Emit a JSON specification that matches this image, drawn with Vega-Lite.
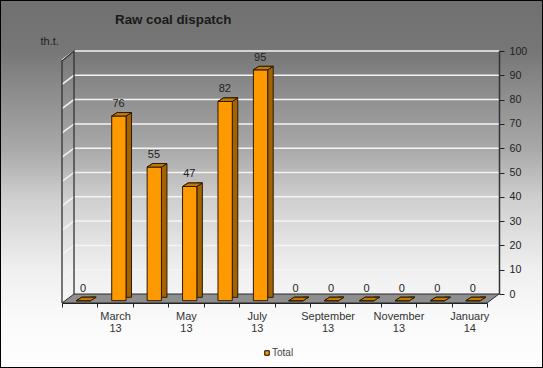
{
"$schema":"https://vega.github.io/schema/vega-lite/v6.json",
"width":543,"height":368,"autosize":"none","padding":0,
"background":"#ffffff",
"config":{"view":{"stroke":null},"font":"Liberation Sans"},
"title":{"text":"Raw coal dispatch","anchor":"start","frame":"group","dx":115,"offset":-27,"fontSize":13.33,"fontWeight":"bold","color":"#1a1a1a","font":"Liberation Sans"},
"datasets":{
"bars":[
{"month":"February 13","value":0,"series":"Total"},
{"month":"March 13","value":76,"series":"Total"},
{"month":"April 13","value":55,"series":"Total"},
{"month":"May 13","value":47,"series":"Total"},
{"month":"June 13","value":82,"series":"Total"},
{"month":"July 13","value":95,"series":"Total"},
{"month":"August 13","value":0,"series":"Total"},
{"month":"September 13","value":0,"series":"Total"},
{"month":"October 13","value":0,"series":"Total"},
{"month":"November 13","value":0,"series":"Total"},
{"month":"December 13","value":0,"series":"Total"},
{"month":"January 14","value":0,"series":"Total"}],
"grid":[
{"month":"February 13","value":10},{"month":"February 13","value":20},{"month":"February 13","value":30},{"month":"February 13","value":40},{"month":"February 13","value":50},{"month":"February 13","value":60},{"month":"February 13","value":70},{"month":"February 13","value":80},{"month":"February 13","value":90},{"month":"February 13","value":100}],
"frame":[{"month":"February 13","value":0}]
},
"data":{"name":"bars"},
"encoding":{
"x":{"field":"month","type":"nominal","sort":null,
"scale":{"type":"band","domain":["February 13","March 13","April 13","May 13","June 13","July 13","August 13","September 13","October 13","November 13","December 13","January 14"],"range":[62,487],"paddingInner":0,"paddingOuter":0},
"axis":{"orient":"bottom","offset":-65,"zindex":1,"title":null,"tickBand":"extent","labelAngle":0,"labelOverlap":false,"labelBound":false,"labelFlush":false,
"labelExpr":"test(/^(March|May|July|September|November|January)/,datum.label)?split(datum.label,' '):''",
"labelFontSize":11,"labelColor":"#333333","labelLineHeight":12,"labelPadding":3,"tickSize":4,"tickColor":"#222222","domainColor":"#222222","domainWidth":1,"grid":false,"labelFont":"Liberation Sans"}},
"y":{"field":"value","type":"quantitative",
"scale":{"domain":[0,100],"range":[294,51],"nice":false,"zero":true},
"axis":{"orient":"right","offset":-44,"zindex":1,"values":[0,10,20,30,40,50,60,70,80,90,100],"grid":false,"title":"th.t.","titleAngle":0,"titleX":-459,"titleY":44,"titleFontSize":11,"titleFontWeight":"normal","titleColor":"#222222","titleAlign":"left","titleBaseline":"alphabetic","titleFont":"Liberation Sans",
"labelFontSize":10.67,"labelColor":"#222222","labelPadding":5,"tickSize":5,"tickColor":"#222222","domainColor":"#333333","domainWidth":1.5,"labelFont":"Liberation Sans"}}
},
"layer":[
{"data":{"name":"frame"},"mark":{"type":"rect","stroke":"#000000","strokeWidth":2,"fill":{"gradient":"linear","x1":0,"y1":0,"x2":0,"y2":1,"stops":[{"offset":0,"color":"#707070"},{"offset":0.14,"color":"#777777"},{"offset":0.27,"color":"#909090"},{"offset":0.41,"color":"#aaaaaa"},{"offset":0.54,"color":"#cfcfcf"},{"offset":0.73,"color":"#efefef"},{"offset":0.87,"color":"#fafafa"},{"offset":1,"color":"#fefefe"}]}},"encoding":{"x":null,"y":null}},
{"data":{"name":"frame"},"mark":{"type":"point","filled":false,"size":4,"opacity":1,"shape":"M-17.7 9L407.3 9L419.3 0L-5.7 0Z","fill":"#8e8e8e","stroke":"#2a2a2a","strokeWidth":1}},
{"data":{"name":"grid"},"mark":{"type":"point","filled":false,"size":4,"opacity":1,"shape":"M-17.7 9L-5.7 0L419.3 0","stroke":"#f4f4f4","strokeWidth":1.5,"fill":null}},
{"data":{"name":"frame"},"mark":{"type":"point","filled":false,"size":4,"opacity":1,"shape":"M-17.7 9L-17.7 -233L-5.7 -243L-5.7 0","stroke":"#333333","strokeWidth":1.3,"fill":null}},
{"mark":{"type":"bar","width":5.5,"xOffset":13.65,"yOffset":3.3,"y2Offset":3.3,"fill":"#a56200","stroke":"#2a1a00","strokeWidth":1}},
{"mark":{"type":"point","filled":false,"size":4,"opacity":1,"shape":"M-3.4 6.7L10.9 6.7L16.4 3.2L2.1 3.2Z","fill":"#c47a00","stroke":"#2a1a00","strokeWidth":1}},
{"mark":{"type":"bar","width":14.3,"xOffset":3.75,"yOffset":6.7,"y2Offset":6.7,"stroke":"#2a1a00","strokeWidth":1},
 "encoding":{"color":{"field":"series","type":"nominal","scale":{"domain":["Total"],"range":["#ff9900"]},"legend":{"orient":"none","legendX":262,"legendY":348,"title":null,"symbolType":"square","symbolSize":20,"symbolStrokeColor":"#000000","symbolStrokeWidth":1,"labelFontSize":10,"labelColor":"#444444","labelOffset":0,"labelFont":"Liberation Sans"}}}},
{"mark":{"type":"point","filled":false,"size":4,"opacity":1,"shape":"M-3.4 6.7L10.9 6.7L16.4 3.2L2.1 3.2Z","fill":"#c47a00","stroke":"#2a1a00","strokeWidth":1}},
{"mark":{"type":"text","xOffset":3.4,"yOffset":-5.5,"fontSize":11,"color":"#222222","font":"Liberation Sans","baseline":"middle","align":"center"},"encoding":{"text":{"field":"value","type":"quantitative"}}}
]
}
